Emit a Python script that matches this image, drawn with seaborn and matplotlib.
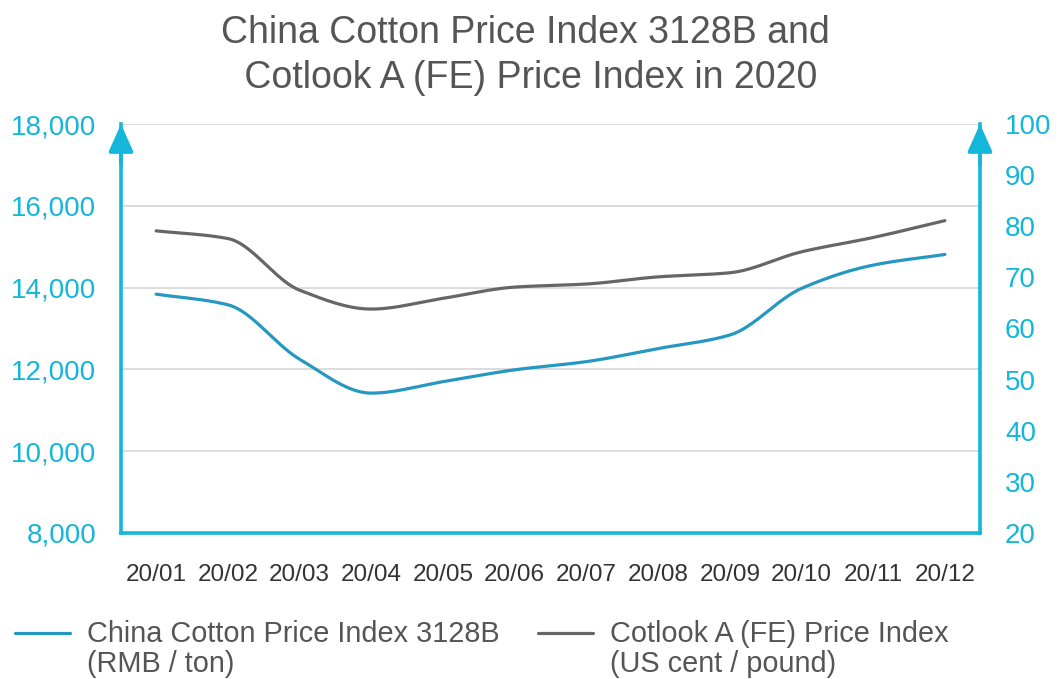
import numpy as np
import pandas as pd
import matplotlib
matplotlib.use("Agg")
import matplotlib.pyplot as plt
import seaborn as sns
from matplotlib.legend_handler import HandlerLine2D
from matplotlib.lines import Line2D

# ---- data ----
months = ["20/01", "20/02", "20/03", "20/04", "20/05", "20/06",
          "20/07", "20/08", "20/09", "20/10", "20/11", "20/12"]
china_3128b = [13840, 13580, 12250, 11420, 11700, 11990,
               12190, 12510, 12840, 13980, 14550, 14810]
cotlook_a = [79.1, 77.6, 67.5, 63.8, 65.9, 68.1,
             68.7, 70.1, 70.9, 75.0, 77.8, 81.1]

left_ticks = [8000, 10000, 12000, 14000, 16000, 18000]
right_ticks = [20, 30, 40, 50, 60, 70, 80, 90, 100]

label_china = "China Cotton Price Index 3128B\n(RMB / ton)"
label_cotlook = "Cotlook A (FE) Price Index\n(US cent / pound)"
title = "China Cotton Price Index 3128B and\n Cotlook A (FE) Price Index in 2020"

# ---- styles ----
CYAN = "#14b6d9"
BLUE = "#2598c2"
GRAY = "#666666"
GRID = "#d6d6d6"
TITLE_C = "#555555"
XLAB_C = "#333333"


def pchip(x, y, n=40):
    """Monotone cubic (Fritsch-Carlson) smoothing for drawing the curve."""
    x = np.asarray(x, float)
    y = np.asarray(y, float)
    h = np.diff(x)
    d = np.diff(y) / h
    m = np.zeros_like(y)
    for k in range(1, len(y) - 1):
        if d[k - 1] * d[k] > 0:
            w1 = 2 * h[k] + h[k - 1]
            w2 = h[k] + 2 * h[k - 1]
            m[k] = (w1 + w2) / (w1 / d[k - 1] + w2 / d[k])
    m[0] = d[0]
    m[-1] = d[-1]
    xs, ys = [], []
    for k in range(len(x) - 1):
        t = np.linspace(0, 1, n, endpoint=(k == len(x) - 2))
        h00 = 2 * t**3 - 3 * t**2 + 1
        h10 = t**3 - 2 * t**2 + t
        h01 = -2 * t**3 + 3 * t**2
        h11 = t**3 - t**2
        xs.append(x[k] + t * h[k])
        ys.append(h00 * y[k] + h10 * h[k] * m[k] + h01 * y[k + 1] + h11 * h[k] * m[k + 1])
    return np.concatenate(xs), np.concatenate(ys)


sns.set_theme(style="white")
plt.rcParams["font.family"] = ["Liberation Sans", "DejaVu Sans"]

fig = plt.figure(figsize=(10.61, 6.79), dpi=100)
ax = fig.add_axes([121 / 1061, 1 - 533 / 679, (980 - 121) / 1061, (533 - 124) / 679])
ax2 = ax.twinx()

xi = np.arange(len(months))
sx, sy1 = pchip(xi, china_3128b)
_, sy2 = pchip(xi, cotlook_a)
df1 = pd.DataFrame({"x": sx, "y": sy1})
df2 = pd.DataFrame({"x": sx, "y": sy2})

sns.lineplot(data=df1, x="x", y="y", ax=ax, color=BLUE, lw=2.3, legend=False)
sns.lineplot(data=df2, x="x", y="y", ax=ax2, color=GRAY, lw=2.3, legend=False)

ax.set_xlim(-0.49, 11.49)
ax.set_ylim(8000, 18000)
ax2.set_ylim(20, 100)

ax.set_yticks(left_ticks)
ax.set_yticklabels([f"{v:,}" for v in left_ticks])
ax2.set_yticks(right_ticks)
ax2.set_yticklabels([str(v) for v in right_ticks])
ax.set_xticks(xi)
ax.set_xticklabels(months)

ax.set_xlabel("")
ax.set_ylabel("")
ax2.set_ylabel("")

ax.grid(axis="y", color=GRID, lw=1.2)
ax.grid(axis="x", visible=False)
ax2.grid(False)

ax.tick_params(axis="y", length=0, pad=18, labelsize=20, labelcolor=CYAN)
ax2.tick_params(axis="y", length=0, pad=18, labelsize=20, labelcolor=CYAN)
ax.tick_params(axis="x", length=0, pad=22, labelsize=17.5, labelcolor=XLAB_C)

for a in (ax, ax2):
    for s in a.spines.values():
        s.set_visible(False)
ax.spines["left"].set_visible(True)
ax.spines["bottom"].set_visible(True)
ax2.spines["right"].set_visible(True)
for s in (ax.spines["left"], ax.spines["bottom"], ax2.spines["right"]):
    s.set_color(CYAN)
    s.set_linewidth(2.6)

for xpos in (0, 1):
    ax.annotate("", xy=(xpos, 1.0), xytext=(xpos, 0.9), xycoords="axes fraction",
                arrowprops=dict(arrowstyle="-|>,head_length=0.85,head_width=0.38",
                                color=CYAN, lw=2.6, mutation_scale=20,
                                shrinkA=0, shrinkB=0))

fig.text(0.495, 0.978, title, ha="center", va="top", fontsize=27,
         color=TITLE_C, linespacing=1.32)


class TopHandler(HandlerLine2D):
    def create_artists(self, legend, orig_handle, xdescent, ydescent,
                       width, height, fontsize, trans):
        arts = super().create_artists(legend, orig_handle, xdescent, ydescent,
                                      width, height, fontsize, trans)
        for a in arts:
            a.set_ydata(np.asarray(a.get_ydata()) + 0.6 * fontsize)
        return arts


h1 = Line2D([], [], color=BLUE, lw=2.3)
h2 = Line2D([], [], color=GRAY, lw=2.3)
for h, lab, xx in ((h1, label_china, 15 / 1061), (h2, label_cotlook, 538 / 1061)):
    leg = fig.legend([h], [lab], loc="upper left", bbox_to_anchor=(xx, 1 - 620 / 679),
                     frameon=False, fontsize=20.8, labelcolor="#555555",
                     handlelength=1.9, handletextpad=0.6, borderpad=0, borderaxespad=0,
                     handler_map={Line2D: TopHandler()})
    for t in leg.get_texts():
        t.set_linespacing(1.1)

fig.savefig("out.png", dpi=100, facecolor="white")
